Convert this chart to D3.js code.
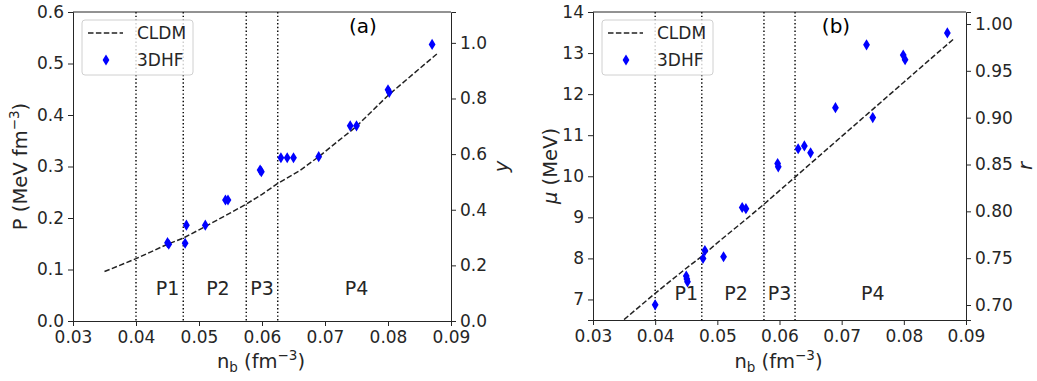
<!DOCTYPE html>
<html>
<head>
<meta charset="utf-8">
<script src="https://cdn.jsdelivr.net/npm/d3@7"></script>
<style>
  html, body { margin: 0; padding: 0; background: #fff; }
  svg { display: block; font-family: "DejaVu Sans", sans-serif; }
</style>
</head>
<body>
<svg id="chart" width="1037" height="381"></svg>
<script>
// ---------------- data ----------------
const xTicks = [0.03, 0.04, 0.05, 0.06, 0.07, 0.08, 0.09];
const pTicks = [0.0, 0.1, 0.2, 0.3, 0.4, 0.5, 0.6];
const yTicks = [0.0, 0.2, 0.4, 0.6, 0.8, 1.0];
const muTicks = [7, 8, 9, 10, 11, 12, 13, 14];
const rTicks = [0.70, 0.75, 0.80, 0.85, 0.90, 0.95, 1.00];

const phaseBounds = [0.04, 0.0475, 0.0575, 0.0625];
const phaseLabels = ["P1", "P2", "P3", "P4"];
const phaseLabelX = [0.045, 0.053, 0.060, 0.075];

// panel (a): pressure
const cldmP_n = [0.035, 0.040, 0.045, 0.0475, 0.050, 0.055, 0.0575, 0.060, 0.0625, 0.066, 0.069, 0.075, 0.080, 0.085, 0.088];
const cldmP_v = [0.096, 0.121, 0.149, 0.161, 0.177, 0.210, 0.227, 0.246, 0.267, 0.292, 0.319, 0.378, 0.438, 0.490, 0.521];
const hfP_n = [0.0450, 0.0452, 0.0480, 0.0478, 0.0510, 0.0542, 0.0546, 0.0597, 0.0599, 0.0630, 0.0640, 0.0650, 0.0690, 0.0740, 0.0750, 0.0800, 0.0802, 0.0870];
const hfP_v = [0.152, 0.149, 0.186, 0.151, 0.186, 0.235, 0.235, 0.293, 0.290, 0.317, 0.317, 0.317, 0.319, 0.379, 0.379, 0.449, 0.444, 0.537];

// panel (b): chemical potential
const cldmMu_n = [0.035, 0.040, 0.045, 0.0475, 0.050, 0.055, 0.0575, 0.060, 0.0625, 0.065, 0.070, 0.075, 0.080, 0.085, 0.088];
const cldmMu_v = [6.51, 7.15, 7.76, 8.05, 8.38, 9.00, 9.32, 9.65, 9.98, 10.31, 10.97, 11.63, 12.29, 12.95, 13.34];
const hfMu_n = [0.0400, 0.0450, 0.0451, 0.0452, 0.0480, 0.0477, 0.0510, 0.0540, 0.0546, 0.0597, 0.0598, 0.0630, 0.0640, 0.0650, 0.0690, 0.0740, 0.0750, 0.0799, 0.0802, 0.0870];
const hfMu_v = [6.87, 7.57, 7.50, 7.43, 8.19, 8.00, 8.04, 9.24, 9.21, 10.31, 10.23, 10.67, 10.74, 10.57, 11.67, 13.20, 11.43, 12.95, 12.84, 13.49];

// ---------------- drawing ----------------
const svg = d3.select("#chart");
const TXT = "#262626";

function panel(cfg) {
  const x = d3.scaleLinear().domain([0.03, 0.09]).range([cfg.x0, cfg.x1]);
  const yL = d3.scaleLinear().domain(cfg.leftDomain).range([cfg.y1, cfg.y0]);
  const yR = d3.scaleLinear().domain(cfg.rightDomain).range([cfg.y1, cfg.y0]);
  const g = svg.append("g");
  const clipId = "clip" + cfg.id;
  svg.append("clipPath").attr("id", clipId).append("rect")
    .attr("x", cfg.x0).attr("y", cfg.y0).attr("width", cfg.x1 - cfg.x0).attr("height", cfg.y1 - cfg.y0);

  const plot = g.append("g").attr("clip-path", `url(#${clipId})`);

  // dotted phase boundaries
  plot.selectAll("line.bound").data(phaseBounds).enter().append("line")
    .attr("x1", d => x(d)).attr("x2", d => x(d))
    .attr("y1", cfg.y0).attr("y2", cfg.y1)
    .attr("stroke", "#000").attr("stroke-width", 1.4).attr("stroke-dasharray", "1.4,2.3");

  // CLDM dashed line
  const line = d3.line().x(d => x(d[0])).y(d => yL(d[1]));
  plot.append("path").datum(cfg.cn.map((n, i) => [n, cfg.cv[i]]))
    .attr("d", line).attr("fill", "none").attr("stroke", "#222")
    .attr("stroke-width", 1.5).attr("stroke-dasharray", "5.5,2.4");

  // 3DHF diamonds
  const diamond = "M0,-5.6L3.4,0L0,5.6L-3.4,0Z";
  plot.selectAll("path.pt").data(cfg.hn.map((n, i) => [n, cfg.hv[i]])).enter().append("path")
    .attr("d", diamond).attr("transform", d => `translate(${x(d[0])},${yL(d[1])})`)
    .attr("fill", "#0000ff");

  // phase labels
  g.selectAll("text.ph").data(phaseLabels).enter().append("text")
    .attr("x", (d, i) => x(phaseLabelX[i])).attr("y", cfg.phaseY)
    .attr("text-anchor", "middle").attr("font-size", 19).attr("fill", TXT).text(d => d);

  // panel tag
  g.append("text").attr("x", cfg.tagX).attr("y", 33).attr("text-anchor", "middle")
    .attr("font-size", 20).attr("fill", "#000").text(cfg.tag);

  // legend
  const lg = g.append("g").attr("transform", `translate(${cfg.x0 + 9},20)`);
  lg.append("rect").attr("x", 0).attr("y", 0).attr("width", 111).attr("height", 55)
    .attr("rx", 3).attr("fill", "#fff").attr("fill-opacity", 0.8)
    .attr("stroke", "#d0d0d0").attr("stroke-width", 1);
  lg.append("line").attr("x1", 6).attr("x2", 41).attr("y1", 13).attr("y2", 13)
    .attr("stroke", "#222").attr("stroke-width", 1.5).attr("stroke-dasharray", "5.5,2.4");
  lg.append("path").attr("d", diamond).attr("transform", "translate(24,40)").attr("fill", "#0000ff");
  lg.append("text").attr("x", 55).attr("y", 19).attr("font-size", 17).attr("fill", TXT).text("CLDM");
  lg.append("text").attr("x", 55).attr("y", 46).attr("font-size", 17).attr("fill", TXT).text("3DHF");

  // axes
  const styleAxis = sel => {
    sel.selectAll("path.domain").attr("stroke", TXT).attr("stroke-width", 1);
    sel.selectAll(".tick line").attr("stroke", TXT).attr("stroke-width", 1);
    sel.selectAll(".tick text").attr("fill", TXT).attr("font-size", 17)
      .attr("font-family", "DejaVu Sans, sans-serif");
  };
  g.append("g").attr("transform", `translate(0,${cfg.y1})`)
    .call(d3.axisBottom(x).tickValues(xTicks).tickFormat(d3.format(".2f")).tickSizeOuter(0).tickSize(5).tickPadding(5))
    .call(styleAxis);
  g.append("g").attr("transform", `translate(${cfg.x0},0)`)
    .call(d3.axisLeft(yL).tickValues(cfg.lt).tickFormat(d3.format(cfg.lf)).tickSizeOuter(0).tickSize(5).tickPadding(4))
    .call(styleAxis);
  g.append("g").attr("transform", `translate(${cfg.x1},0)`)
    .call(d3.axisRight(yR).tickValues(cfg.rt).tickFormat(d3.format(cfg.rf)).tickSizeOuter(0).tickSize(5).tickPadding(4))
    .call(styleAxis);
  // top spine
  g.append("line").attr("x1", cfg.x0).attr("x2", cfg.x1).attr("y1", cfg.y0).attr("y2", cfg.y0)
    .attr("stroke", TXT).attr("stroke-width", 1);

  // x label: n_b (fm^-3)
  const xl = g.append("text").attr("x", (cfg.x0 + cfg.x1) / 2 - 1).attr("y", 368)
    .attr("text-anchor", "middle").attr("font-size", 19.5).attr("fill", TXT);
  xl.append("tspan").text("n");
  xl.append("tspan").attr("font-size", 13.5).attr("dy", 4).text("b");
  xl.append("tspan").attr("dy", -4).text(" (fm");
  xl.append("tspan").attr("font-size", 13.5).attr("dy", -8).text("\u22123");
  xl.append("tspan").attr("dy", 8).text(")");

  // left y label
  const ylab = g.append("text").attr("transform", `translate(${cfg.ylx},${(cfg.y0 + cfg.y1) / 2}) rotate(-90)`)
    .attr("text-anchor", "middle").attr("font-size", 19.5).attr("fill", TXT);
  cfg.ylabel(ylab);

  // right y label
  g.append("text").attr("transform", `translate(${cfg.yrx},${(cfg.y0 + cfg.y1) / 2}) rotate(-90)`)
    .attr("text-anchor", "middle").attr("font-size", 19.5).attr("font-style", "italic")
    .attr("fill", TXT).text(cfg.rlabel);
}

panel({
  id: "a", x0: 73, x1: 451, y0: 12, y1: 321,
  leftDomain: [0, 0.6], rightDomain: [0, 1.111],
  lt: pTicks, lf: ".1f", rt: yTicks, rf: ".1f",
  cn: cldmP_n, cv: cldmP_v, hn: hfP_n, hv: hfP_v,
  phaseY: 295, tag: "(a)", tagX: 363,
  ylx: 27, yrx: 508, rlabel: "y",
  ylabel: t => {
    t.append("tspan").text("P (MeV fm");
    t.append("tspan").attr("font-size", 13.5).attr("dy", -8).text("\u22123");
    t.append("tspan").attr("dy", 8).text(")");
  }
});

panel({
  id: "b", x0: 593, x1: 966, y0: 12, y1: 320,
  leftDomain: [6.5, 14], rightDomain: [0.684, 1.0128],
  lt: muTicks, lf: "d", rt: rTicks, rf: ".2f",
  cn: cldmMu_n, cv: cldmMu_v, hn: hfMu_n, hv: hfMu_v,
  phaseY: 300, tag: "(b)", tagX: 836,
  ylx: 557, yrx: 1032, rlabel: "r",
  ylabel: t => {
    t.append("tspan").attr("font-style", "italic").text("\u03bc");
    t.append("tspan").text(" (MeV)");
  }
});
</script>
</body>
</html>
